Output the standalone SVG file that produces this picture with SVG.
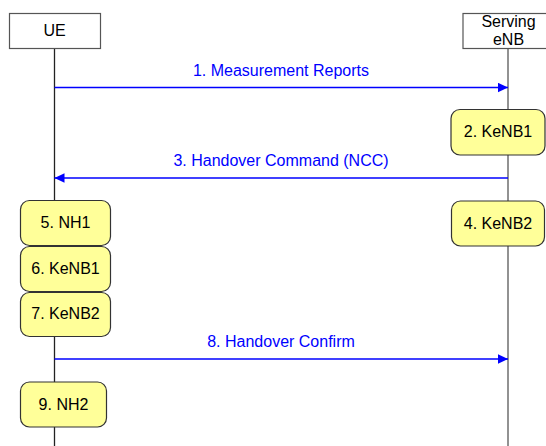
<svg xmlns="http://www.w3.org/2000/svg" width="546" height="446" viewBox="0 0 546 446">
  <style>
    text { font-family: "Liberation Sans", Arial, sans-serif; font-size: 16px; text-anchor: middle; }
    .head { fill: #ffffff; stroke: #555555; stroke-width: 1.2; }
    .step { fill: #ffff99; stroke: #333333; stroke-width: 1.2; }
    .lbl { fill: #000000; }
    .msg { stroke: #0000ff; stroke-width: 1.4; fill: none; }
    .msgtxt { fill: #0000ff; }
  </style>
  <defs>
    <marker id="arrow" markerUnits="userSpaceOnUse" markerWidth="11" markerHeight="10" refX="10" refY="5" orient="auto">
      <path d="M0,0.3 L10,5 L0,9.7 Z" fill="#0000ff"/>
    </marker>
  </defs>
  <rect width="546" height="446" fill="#ffffff"/>

  <!-- lifelines -->
  <g id="lifelines">
    <line x1="54.5" y1="48.5" x2="54.5" y2="446" stroke="#222222" stroke-width="1.3"/>
    <line x1="508" y1="48.5" x2="508" y2="446" stroke="#777777" stroke-width="1.6"/>
  </g>

  <!-- participants -->
  <g id="ue">
    <rect class="head" x="9.5" y="13.5" width="91" height="35"/>
    <text class="lbl" x="54.5" y="36">UE</text>
  </g>
  <g id="serving-enb">
    <rect class="head" x="463" y="13.5" width="92" height="35"/>
    <text class="lbl" x="508.5" y="26.5">Serving</text>
    <text class="lbl" x="508.5" y="45">eNB</text>
  </g>

  <!-- messages -->
  <g id="connectors">
    <line class="msg" x1="54.5" y1="87.5" x2="508" y2="87.5" marker-end="url(#arrow)"/>
    <text class="msgtxt" x="281" y="75.5">1. Measurement Reports</text>
    <line class="msg" x1="508" y1="178" x2="54.5" y2="178" marker-end="url(#arrow)"/>
    <text class="msgtxt" x="281" y="166">3. Handover Command (NCC)</text>
    <line class="msg" x1="54.5" y1="359" x2="508" y2="359" marker-end="url(#arrow)"/>
    <text class="msgtxt" x="281" y="347">8. Handover Confirm</text>
  </g>

  <!-- key derivation steps -->
  <g id="step2">
    <rect class="step" x="451" y="109.5" width="94" height="45.5" rx="9"/>
    <text class="lbl" x="498" y="137">2. KeNB1</text>
  </g>
  <g id="step4">
    <rect class="step" x="451.5" y="201" width="93" height="45" rx="9"/>
    <text class="lbl" x="498" y="228.5">4. KeNB2</text>
  </g>
  <g id="step5">
    <rect class="step" x="20.5" y="200.5" width="90" height="45" rx="9"/>
    <text class="lbl" x="65.5" y="227.5">5. NH1</text>
  </g>
  <g id="step6">
    <rect class="step" x="20.5" y="246.5" width="90" height="45" rx="9"/>
    <text class="lbl" x="65.5" y="273.5">6. KeNB1</text>
  </g>
  <g id="step7">
    <rect class="step" x="20.5" y="292.5" width="90" height="44" rx="9"/>
    <text class="lbl" x="65.5" y="319">7. KeNB2</text>
  </g>
  <g id="step9">
    <rect class="step" x="20.5" y="382" width="86" height="45" rx="9"/>
    <text class="lbl" x="63.5" y="409.5">9. NH2</text>
  </g>
</svg>
